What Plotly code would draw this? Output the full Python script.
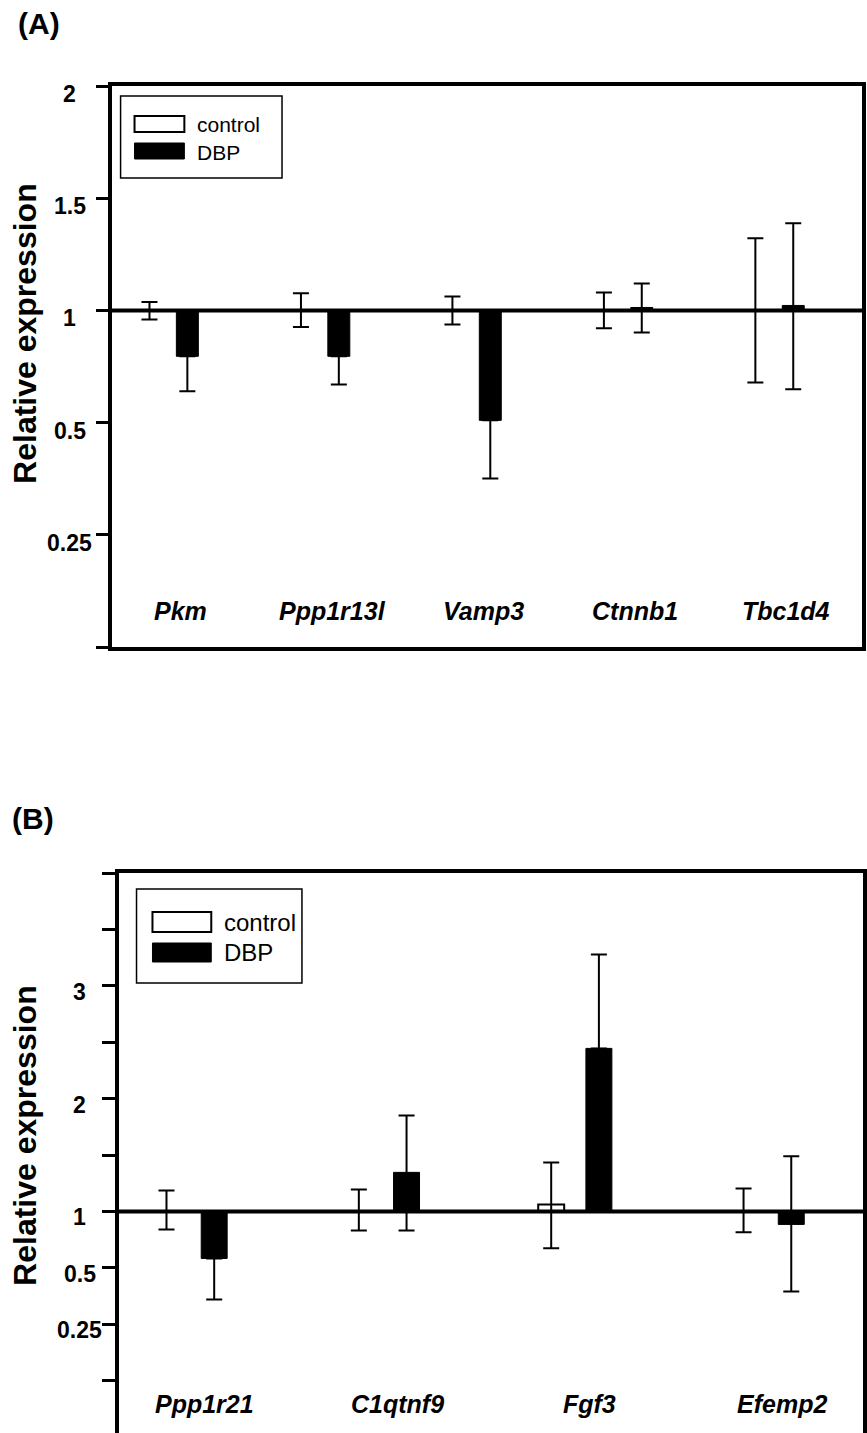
import math
import plotly.graph_objects as go

W, H = 867, 1433

# ---------------- data ----------------
genes_a = ["Pkm", "Ppp1r13l", "Vamp3", "Ctnnb1", "Tbc1d4"]
ctrl_a = [1.0, 1.0, 1.0, 1.0, 1.0]
ctrl_a_hi = [1.037, 1.076, 1.062, 1.08, 1.321]
ctrl_a_lo = [0.946, 0.903, 0.917, 0.895, 0.641]
dbp_a = [0.753, 0.753, 0.507, 1.013, 1.022]
dbp_a_hi = [None, None, None, 1.12, 1.388]
dbp_a_lo = [0.607, 0.633, 0.354, 0.873, 0.614]
ticks_a = [2, 1.5, 1, 0.5, 0.25, 0.125]
ticklabels_a = ["2", "1.5", "1", "0.5", "0.25", ""]

genes_b = ["Ppp1r21", "C1qtnf9", "Fgf3", "Efemp2"]
ctrl_b = [1.0, 1.0, 1.062, 1.0]
ctrl_b_hi = [1.186, 1.195, 1.434, 1.204]
ctrl_b_lo = [0.80, 0.79, 0.635, 0.773]
dbp_b = [0.561, 1.346, 2.445, 0.852]
dbp_b_hi = [None, 1.85, 3.278, 1.488]
dbp_b_lo = [0.339, 0.79, None, 0.374]
ticks_b = [4, 3.5, 3, 2.5, 2, 1.5, 1, 0.5, 0.25, 0.125]
ticklabels_b = ["", "", "3", "", "2", "", "1", "0.5", "0.25", ""]

series_names = ["control", "DBP"]


# axis scale of the original figure: linear above 1, log2 below 1
def scale_a(v):
    return 2.0 * (v - 1.0) if v >= 1 else math.log2(v)


def scale_b(v):
    return (v - 1.0) if v >= 1 else 0.5 * math.log2(v)


def px(x):
    return x / W


def py(y):
    return 1 - y / H


FONT = "Liberation Sans, Arial, sans-serif"
fig = go.Figure()


def add_panel(genes, ctrl, chi, clo, dbp, dhi, dlo, scale, xa, ya, off, width):
    n = len(genes)
    for name, vals, hi, lo, sign, fill, lw in [
        ("control", ctrl, chi, clo, -1, "white", 2),
        ("DBP", dbp, dhi, dlo, 1, "black", 1),
    ]:
        u = [scale(v) for v in vals]
        up = [0 if h is None else scale(h) - s for h, s in zip(hi, u)]
        dn = [0 if l is None else s - scale(l) for l, s in zip(lo, u)]
        fig.add_trace(go.Bar(
            x=[i + sign * off for i in range(n)], y=u, base=0, width=width,
            name=name, xaxis=xa, yaxis=ya, showlegend=False,
            marker=dict(color=fill, line=dict(color="black", width=lw)),
            error_y=dict(type="data", symmetric=False, array=up, arrayminus=dn,
                         color="black", thickness=2, width=8),
        ))


add_panel(genes_a, ctrl_a, ctrl_a_hi, ctrl_a_lo, dbp_a, dbp_a_hi, dbp_a_lo,
          scale_a, "x", "y", 0.125, 0.145)
add_panel(genes_b, ctrl_b, ctrl_b_hi, ctrl_b_lo, dbp_b, dbp_b_hi, dbp_b_lo,
          scale_b, "x2", "y2", 0.124, 0.135)

axis_common = dict(showgrid=False, zeroline=False, color="black")

fig.update_layout(
    width=W, height=H, autosize=False,
    margin=dict(l=0, r=0, t=0, b=0),
    paper_bgcolor="white", plot_bgcolor="white",
    barmode="overlay",
    font=dict(family=FONT, color="black"),
    xaxis=dict(domain=[px(112), px(865)], range=[-0.375, 4.579],
               showline=True, mirror=True, linewidth=4, linecolor="black",
               showticklabels=False, ticks="", anchor="y", **axis_common),
    yaxis=dict(domain=[py(647), py(86)], range=[-3, 2],
               tickvals=[scale_a(t) for t in ticks_a],
               showline=True, mirror=True, linewidth=4, linecolor="black",
               ticks="outside", ticklen=12, tickwidth=3, tickcolor="black",
               showticklabels=False, anchor="x", **axis_common),
    xaxis2=dict(domain=[px(119), px(866)], range=[-0.373, 3.497],
                side="top", showline=True, mirror=False, linewidth=4,
                linecolor="black", showticklabels=False, ticks="",
                anchor="y2", **axis_common),
    yaxis2=dict(domain=[0, py(873)], range=[3 - 560 / 112.8, 3],
                tickvals=[scale_b(t) for t in ticks_b],
                showline=True, mirror=True, linewidth=4, linecolor="black",
                ticks="outside", ticklen=13, tickwidth=3, tickcolor="black",
                showticklabels=False, anchor="x2", **axis_common),
)

ann = []
shapes = []

# reference line at relative expression = 1
for xa, ya in [("x", "y"), ("x2", "y2")]:
    shapes.append(dict(type="line", xref=f"{xa} domain", yref=ya, x0=0, x1=1,
                       y0=0, y1=0, line=dict(color="black", width=4),
                       layer="above"))

# tick labels
for t, lab in zip(ticks_a, ticklabels_a):
    if lab:
        ann.append(dict(text=lab, xref="paper", yref="y", x=px(70),
                        y=scale_a(t), yshift=-8, showarrow=False,
                        xanchor="center", yanchor="middle",
                        font=dict(size=23, weight="bold")))
for t, lab in zip(ticks_b, ticklabels_b):
    if lab:
        ann.append(dict(text=lab, xref="paper", yref="y2", x=px(80),
                        y=scale_b(t), yshift=-6, showarrow=False,
                        xanchor="center", yanchor="middle",
                        font=dict(size=23, weight="bold")))

# gene labels inside plot
for i, g in enumerate(genes_a):
    ann.append(dict(text=g, xref="x", yref="y", x=i + 0.08, y=-2.68,
                    showarrow=False, xanchor="center", yanchor="middle",
                    font=dict(size=25, weight="bold", style="italic")))
for i, g in enumerate(genes_b):
    ann.append(dict(text=g, xref="x2", yref="y2", x=i + 0.075, y=-1.71,
                    showarrow=False, xanchor="center", yanchor="middle",
                    font=dict(size=25, weight="bold", style="italic")))

# panel letters
ann.append(dict(text="(A)", xref="paper", yref="paper", x=px(16), y=py(23),
                showarrow=False, xanchor="left", yanchor="middle",
                font=dict(size=30, weight="bold")))
ann.append(dict(text="(B)", xref="paper", yref="paper", x=px(10), y=py(819),
                showarrow=False, xanchor="left", yanchor="middle",
                font=dict(size=30, weight="bold")))

# y titles
for yc in [333, 1135]:
    ann.append(dict(text="Relative expression", xref="paper", yref="paper",
                    x=px(25), y=py(yc), textangle=-90, showarrow=False,
                    xanchor="center", yanchor="middle",
                    font=dict(size=32, weight="bold")))


# custom legends (wide swatches like the original)
def legend(box, sw1, sw2, tx, ty1, ty2, fs):
    shapes.append(dict(type="rect", xref="paper", yref="paper",
                       x0=px(box[0]), x1=px(box[1]), y0=py(box[3]), y1=py(box[2]),
                       line=dict(color="black", width=1.5), fillcolor="white",
                       layer="above"))
    shapes.append(dict(type="rect", xref="paper", yref="paper",
                       x0=px(sw1[0]), x1=px(sw1[1]), y0=py(sw1[3]), y1=py(sw1[2]),
                       line=dict(color="black", width=2), fillcolor="white",
                       layer="above"))
    shapes.append(dict(type="rect", xref="paper", yref="paper",
                       x0=px(sw2[0]), x1=px(sw2[1]), y0=py(sw2[3]), y1=py(sw2[2]),
                       line=dict(color="black", width=1), fillcolor="black",
                       layer="above"))
    for name, yy in zip(series_names, [ty1, ty2]):
        ann.append(dict(text=name, xref="paper", yref="paper", x=px(tx),
                        y=py(yy), showarrow=False, xanchor="left",
                        yanchor="middle", font=dict(size=fs)))


legend((121, 283, 96, 178), (135, 185, 116, 132), (135, 185, 143, 159),
       196, 124, 152, 21)
legend((137, 303, 889, 983), (153, 212, 912, 932), (153, 212, 943, 962),
       223, 923, 952, 24)

fig.update_layout(annotations=ann, shapes=shapes)
# remove the browser's default 8px body margin so the figure fills the window
fig.write_html("out.html",
               config={"displayModeBar": False},
               post_script="document.body.style.margin='0';"
                           "document.body.style.overflow='hidden';")
